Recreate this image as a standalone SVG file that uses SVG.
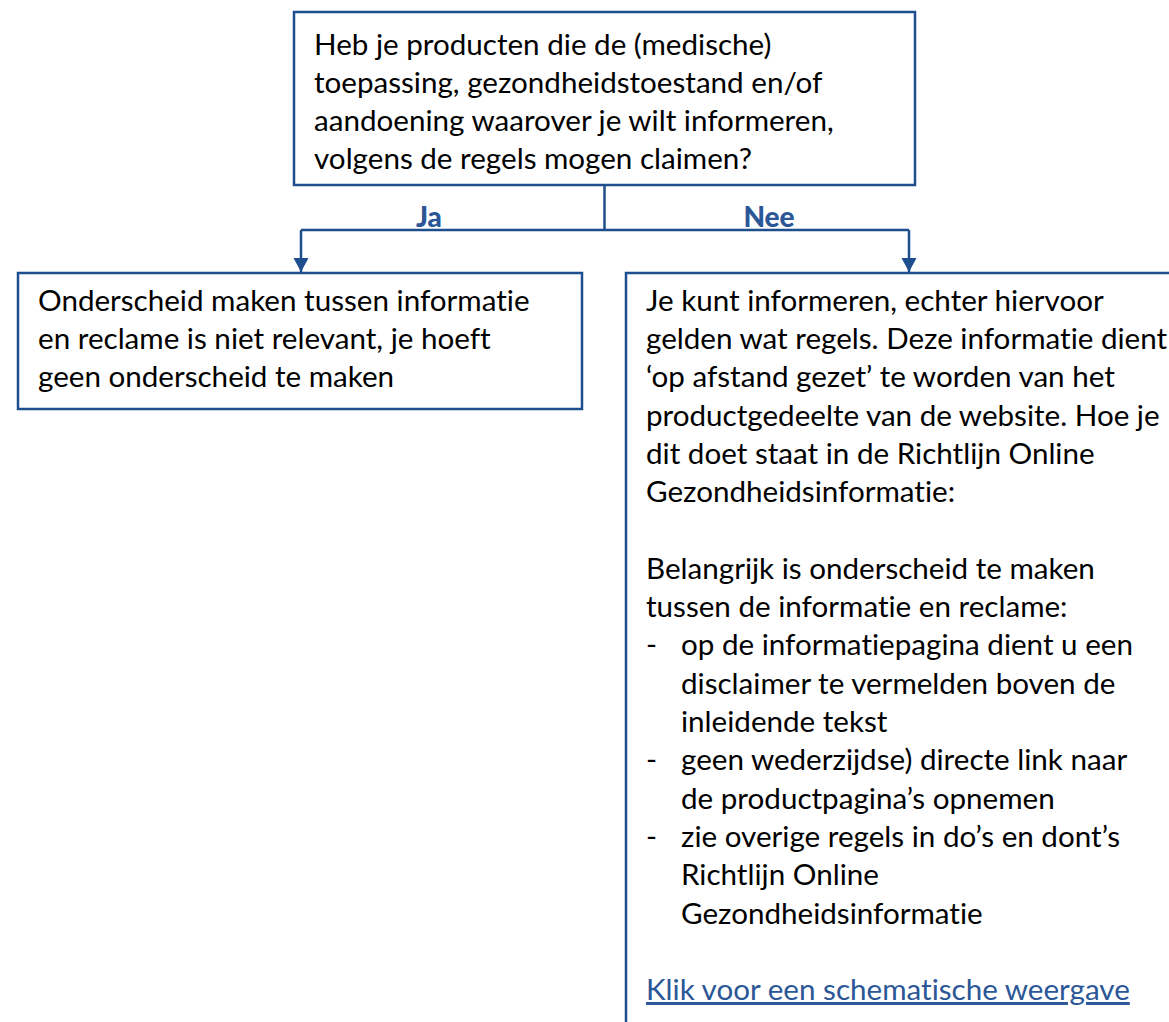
<svg xmlns="http://www.w3.org/2000/svg" width="1169" height="1022" viewBox="0 0 1169 1022">
<style>
.box{fill:#fff;stroke:#1F4E8C;stroke-width:2.5}
.t,.lbl,.link{font-family:Lato,"Liberation Sans",sans-serif;font-size:29.6px;font-variant-ligatures:none;font-feature-settings:"liga" 0}
.t{fill:#000}
.lbl{font-size:28px;font-weight:900;fill:#2B5797}
.link{fill:#2B5797;text-decoration:underline}
.c{fill:none;stroke:#1F4E8C;stroke-width:2.5}
</style>
<defs>
<marker id="ah" markerUnits="userSpaceOnUse" markerWidth="16" markerHeight="15" refX="8" refY="14" orient="0" viewBox="0 0 16 15">
<path d="M0.5,0 L15.5,0 L8,14 Z" fill="#1F4E8C"/>
</marker>
</defs>
<rect width="1169" height="1022" fill="#fff"/>
<g id="connectors">
<path class="c" d="M604.5,186 V230"/>
<path class="c" d="M301,230 H909"/>
<path class="c" d="M301,230 V272" marker-end="url(#ah)"/>
<path class="c" d="M909,230 V272" marker-end="url(#ah)"/>
<text class="lbl" x="429" y="227" text-anchor="middle">Ja</text>
<text class="lbl" x="769" y="227" text-anchor="middle">Nee</text>
</g>
<g id="q1">
<rect class="box" x="294" y="12" width="621" height="173"/>
<text class="t" x="314" y="55">Heb je producten die de (medische)</text>
<text class="t" x="314" y="93">toepassing, gezondheidstoestand en/of</text>
<text class="t" x="314" y="131">aandoening waarover je wilt informeren,</text>
<text class="t" x="314" y="169">volgens de regels mogen claimen?</text>
</g>
<g id="ja">
<rect class="box" x="18" y="273" width="564" height="136"/>
<text class="t" x="38" y="311">Onderscheid maken tussen informatie</text>
<text class="t" x="38" y="349">en reclame is niet relevant, je hoeft</text>
<text class="t" x="38" y="387">geen onderscheid te maken</text>
</g>
<g id="nee">
<rect class="box" x="626" y="273" width="600" height="800"/>
<text class="t" x="646" y="311">Je kunt informeren, echter hiervoor</text>
<text class="t" x="646" y="349">gelden wat regels. Deze informatie dient</text>
<text class="t" x="646" y="387">‘op afstand gezet’ te worden van het</text>
<text class="t" x="646" y="426">productgedeelte van de website. Hoe je</text>
<text class="t" x="646" y="464">dit doet staat in de Richtlijn Online</text>
<text class="t" x="646" y="502">Gezondheidsinformatie:</text>
<text class="t" x="646" y="579">Belangrijk is onderscheid te maken</text>
<text class="t" x="646" y="617">tussen de informatie en reclame:</text>
<text class="t" x="646" y="655">-</text>
<text class="t" x="681" y="655">op de informatiepagina dient u een</text>
<text class="t" x="681" y="694">disclaimer te vermelden boven de</text>
<text class="t" x="681" y="732">inleidende tekst</text>
<text class="t" x="646" y="770">-</text>
<text class="t" x="681" y="770">geen wederzijdse) directe link naar</text>
<text class="t" x="681" y="809">de productpagina’s opnemen</text>
<text class="t" x="646" y="847">-</text>
<text class="t" x="681" y="847">zie overige regels in do’s en dont’s</text>
<text class="t" x="681" y="885">Richtlijn Online</text>
<text class="t" x="681" y="924">Gezondheidsinformatie</text>
<text class="link" x="646" y="1000">Klik voor een schematische weergave</text>
</g>
</svg>
